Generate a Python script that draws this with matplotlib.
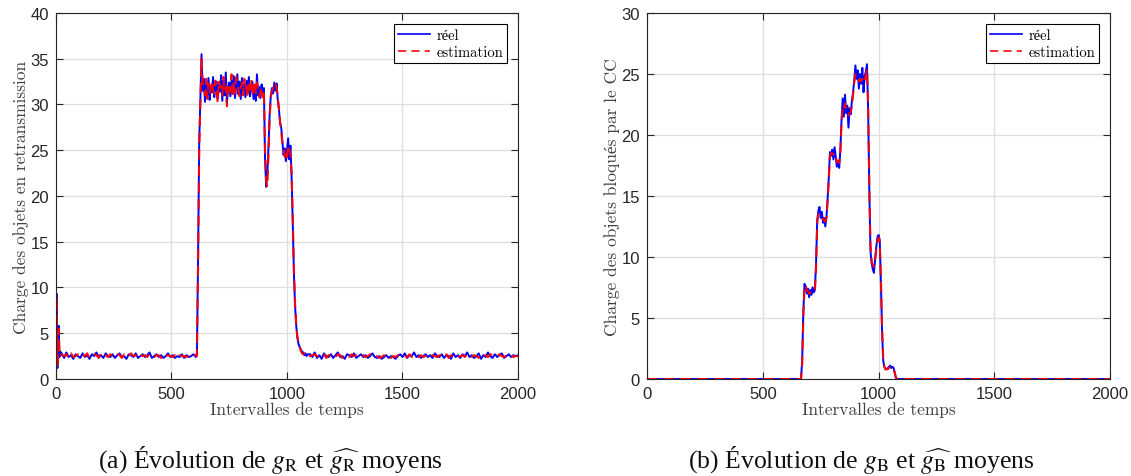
import matplotlib
matplotlib.use("Agg")
import matplotlib.pyplot as plt
import numpy as np

plt.rcParams['axes.unicode_minus'] = False
plt.rcParams['mathtext.fontset'] = 'stix'

# ---- (a) g_R : charge des objets en retransmission ----
gr_t0 = [0, 3, 6, 9, 12, 15, 18]
gr_real0 = [0.2, 9.3, 1.2, 2.2, 5.8, 2.4, 3.0]
gr_est0 = [0.0, 9.0, 1.5, 2.0, 5.5, 2.6, 2.8]

gr_t1 = np.arange(25, 606, 10)
gr_real1 = [2.8, 2.3, 2.9, 2.4, 2.6, 2.2, 2.7, 2.5, 2.3, 2.8,
            2.4, 2.6, 2.2, 2.7, 2.5, 2.9, 2.4, 2.6, 2.3, 2.8,
            2.5, 2.4, 2.7, 2.3, 2.6, 2.8, 2.4, 2.5, 2.2, 2.7,
            2.6, 2.4, 2.8, 2.3, 2.5, 2.7, 2.4, 2.6, 2.9, 2.3,
            2.5, 2.7, 2.4, 2.6, 2.3, 2.5, 2.8, 2.4, 2.6, 2.3,
            2.5, 2.4, 2.7, 2.3, 2.6, 2.4, 2.5, 2.7, 2.4]
gr_est1 = [2.6, 2.5, 2.7, 2.3, 2.8, 2.4, 2.5, 2.7, 2.4, 2.6,
           2.5, 2.8, 2.3, 2.5, 2.7, 2.6, 2.3, 2.8, 2.5, 2.6,
           2.4, 2.7, 2.5, 2.5, 2.8, 2.6, 2.3, 2.7, 2.4, 2.5,
           2.8, 2.5, 2.6, 2.4, 2.7, 2.5, 2.6, 2.4, 2.7, 2.5,
           2.4, 2.6, 2.6, 2.3, 2.7, 2.5, 2.6, 2.5, 2.4, 2.6,
           2.3, 2.6, 2.5, 2.5, 2.4, 2.6, 2.4, 2.5, 2.6]

gr_t2 = np.arange(610, 1091, 5)
gr_real2 = [2.6, 13.0, 26.0, 30.5, 35.5, 31.5, 32.8, 30.3, 32.2, 31.0,
            32.9, 30.5, 32.0, 31.3, 33.0, 30.8, 31.9, 32.5, 30.6, 32.2,
            31.4, 33.2, 30.4, 32.6, 31.0, 33.5, 30.2, 31.8, 32.4, 30.9,
            32.7, 31.2, 33.1, 30.7, 32.0, 33.3, 31.1, 32.5, 30.6, 32.9,
            31.5, 32.2, 30.8, 32.6, 31.3, 33.0, 30.9, 31.8, 32.5, 30.6,
            32.1, 30.4, 33.3, 31.0, 31.9, 30.7, 32.2, 31.3, 31.8, 24.0,
            21.0, 22.5, 25.5, 29.0, 31.0, 31.8, 31.2, 32.4, 31.5, 32.3,
            30.5, 29.5, 28.0, 27.5, 26.0, 24.5, 25.2, 23.8, 25.0, 26.3,
            24.0, 25.5, 22.0, 17.0, 11.5, 8.0, 5.8, 4.5, 3.8, 3.5,
            3.2, 3.0, 2.9, 2.6, 2.8, 2.5, 2.7]
gr_est2 = [2.5, 12.0, 25.0, 30.0, 35.0, 32.3, 31.6, 31.0, 32.8, 30.6,
           32.3, 31.2, 31.6, 32.6, 31.5, 31.2, 32.6, 31.4, 30.2, 32.6,
           31.9, 32.0, 31.0, 33.0, 31.5, 32.0, 29.8, 32.3, 31.8, 31.4,
           33.3, 30.8, 32.5, 31.2, 33.0, 32.3, 31.6, 30.9, 31.8, 32.4,
           31.0, 32.8, 31.5, 31.9, 30.7, 32.5, 31.6, 32.8, 31.0, 31.7,
           32.6, 31.2, 32.4, 31.5, 30.8, 31.4, 31.9, 30.8, 31.6, 25.0,
           21.5, 21.0, 24.5, 28.5, 30.8, 31.5, 31.8, 31.6, 32.2, 31.8,
           30.8, 29.6, 28.2, 27.0, 25.8, 25.2, 24.3, 24.8, 24.2, 25.6,
           25.0, 24.6, 22.5, 17.5, 12.0, 8.2, 5.9, 4.6, 3.9, 3.4,
           3.1, 2.8, 2.7, 2.8, 2.6, 2.7, 2.5]

gr_t3 = np.arange(1100, 2001, 10)
gr_real3 = [2.7, 2.4, 2.9, 2.3, 2.6, 2.2, 2.8, 2.5, 2.4, 2.7,
            2.3, 2.6, 2.9, 2.4, 2.5, 2.2, 2.7, 2.6, 2.4, 2.8,
            2.3, 2.5, 2.7, 2.4, 2.6, 2.3, 2.5, 2.8, 2.4, 2.3,
            2.5, 2.2, 2.4, 2.6, 2.3, 2.5, 2.4, 2.2, 2.5, 2.7,
            2.4, 2.8, 2.3, 2.6, 2.5, 2.9, 2.4, 2.6, 2.3, 2.5,
            2.7, 2.4, 2.6, 2.3, 2.8, 2.5, 2.4, 2.7, 2.3, 2.6,
            2.5, 2.2, 2.8, 2.4, 2.6, 2.3, 2.7, 2.5, 2.9, 2.4,
            2.6, 2.3, 2.5, 2.8, 2.2, 2.6, 2.4, 2.9, 2.5, 2.3,
            2.7, 2.4, 2.6, 2.8, 2.3, 2.5, 2.7, 2.4, 2.6, 2.5,
            2.6]
gr_est3 = [2.5, 2.6, 2.7, 2.5, 2.4, 2.6, 2.7, 2.3, 2.6, 2.5,
           2.6, 2.4, 2.7, 2.6, 2.3, 2.5, 2.6, 2.4, 2.7, 2.5,
           2.6, 2.4, 2.5, 2.6, 2.4, 2.5, 2.7, 2.5, 2.4, 2.5,
           2.3, 2.4, 2.6, 2.4, 2.5, 2.3, 2.5, 2.4, 2.6, 2.5,
           2.6, 2.5, 2.4, 2.7, 2.4, 2.6, 2.5, 2.4, 2.6, 2.4,
           2.5, 2.6, 2.4, 2.6, 2.5, 2.4, 2.6, 2.5, 2.4, 2.7,
           2.3, 2.6, 2.5, 2.6, 2.4, 2.5, 2.6, 2.4, 2.7, 2.5,
           2.4, 2.6, 2.5, 2.3, 2.7, 2.5, 2.6, 2.4, 2.7, 2.6,
           2.4, 2.5, 2.7, 2.5, 2.4, 2.6, 2.5, 2.6, 2.4, 2.5,
           2.5]

# ---- (b) g_B : charge des objets bloqués par le CC ----
gb_t0 = [0, 660]
gb_val0 = [0.0, 0.0]
gb_t1 = np.arange(665, 1086, 5)
gb_real1 = [0.0, 1.5, 5.5, 7.8, 7.6, 7.0, 7.4, 6.7, 7.3, 6.9,
            7.5, 7.1, 7.3, 9.5, 13.0, 13.8, 14.1, 13.2, 13.7, 12.8,
            13.2, 12.5, 13.3, 14.8, 16.5, 18.6, 18.3, 18.8, 18.0, 19.0,
            18.2, 17.4, 17.9, 17.3, 18.8, 21.2, 23.0, 21.5, 23.3, 21.8,
            22.4, 20.6, 22.2, 21.7, 22.8, 23.5, 24.5, 25.7, 24.6, 25.3,
            23.8, 25.0, 24.2, 25.5, 23.5, 24.8, 25.2, 25.8, 22.0, 15.5,
            10.5, 9.5, 9.0, 8.7, 9.8, 10.8, 11.6, 11.8, 11.4, 8.0,
            4.0, 1.5, 1.0, 0.8, 0.8, 0.9, 1.0, 1.1, 0.9, 1.0,
            0.9, 0.5, 0.1, 0.0, 0.0]
gb_est1 = [0.0, 1.2, 5.0, 7.6, 7.7, 7.3, 7.2, 7.0, 7.1, 7.0,
           7.2, 7.2, 7.3, 9.0, 12.8, 13.5, 13.6, 13.4, 13.3, 13.1,
           13.0, 12.9, 13.2, 14.6, 16.3, 18.3, 18.5, 18.5, 18.4, 18.5,
           18.2, 17.8, 17.8, 17.7, 18.5, 21.0, 22.4, 22.2, 22.6, 22.1,
           22.0, 21.6, 21.8, 21.9, 22.4, 23.3, 24.3, 25.0, 24.8, 24.7,
           24.4, 24.6, 24.4, 24.6, 24.3, 24.5, 24.9, 25.4, 22.5, 16.0,
           11.0, 9.7, 9.3, 9.2, 9.7, 10.6, 11.3, 11.6, 11.2, 8.3,
           4.3, 1.7, 1.0, 0.8, 0.8, 0.8, 0.9, 1.0, 0.9, 0.9,
           0.9, 0.5, 0.1, 0.0, 0.0]
gb_t2 = [1090, 2000]

gr_t = np.concatenate([gr_t0, gr_t1, gr_t2, gr_t3])
gr_real = np.concatenate([gr_real0, gr_real1, gr_real2, gr_real3])
gr_est = np.concatenate([gr_est0, gr_est1, gr_est2, gr_est3])
gb_t = np.concatenate([gb_t0, gb_t1, gb_t2])
gb_real = np.concatenate([gb_val0, gb_real1, gb_val0])
gb_est = np.concatenate([gb_val0, gb_est1, gb_val0])

lab_font = ['cmr10', 'Liberation Serif']
tick_font = 'Liberation Sans'

fig = plt.figure(figsize=(11.31, 4.77), dpi=100)
ax1 = fig.add_axes([0.0495, 0.2034, 0.4085, 0.7673])
ax2 = fig.add_axes([0.5721, 0.2034, 0.4094, 0.7673])

panels = [
    (ax1, gr_t, gr_real, gr_est, 40, 'Charge des objets en retransmission'),
    (ax2, gb_t, gb_real, gb_est, 30, 'Charge des objets bloqués par le CC'),
]
for ax, t, real, est, ymax, ylab in panels:
    ax.plot(t, real, color='blue', lw=1.4, label='réel')
    ax.plot(t, est, color='red', lw=1.5, ls=(0, (5, 3)), alpha=0.95, label='estimation')
    ax.set_xlim(0, 2000)
    ax.set_ylim(0, ymax)
    ax.set_xticks([0, 500, 1000, 1500, 2000])
    ax.set_yticks(np.arange(0, ymax + 1, 5))
    ax.grid(True, color='#dedede', lw=0.9)
    ax.set_axisbelow(True)
    ax.tick_params(direction='in', length=5, top=True, right=True, pad=5,
                   labelsize=12, colors='#262626', width=0.8)
    for lb in ax.get_xticklabels() + ax.get_yticklabels():
        lb.set_fontfamily(tick_font)
    for sp in ax.spines.values():
        sp.set_color('#262626')
        sp.set_linewidth(0.8)
    ax.set_xlabel('Intervalles de temps', family=lab_font, fontsize=12.5,
                  color='#404040', labelpad=0)
    ax.set_ylabel(ylab, family=lab_font, fontsize=12.5, color='#404040', labelpad=1)
    leg = ax.legend(loc='upper right', bbox_to_anchor=(0.977, 0.970), borderaxespad=0,
                    fancybox=False, edgecolor='black', framealpha=1,
                    prop={'family': lab_font, 'size': 10.5},
                    handlelength=2.2, labelspacing=0.2,
                    borderpad=0.3, handletextpad=0.4)
    leg.get_frame().set_linewidth(0.8)
    for h in leg.get_lines():
        h.set_linewidth(1.2)

fig.text(0.2395, 0.036, r"(a) Évolution de $g_{\mathrm{R}}$ et $\widehat{g_{\mathrm{R}}}$ moyens",
         ha='center', va='center', fontsize=18.5, family='Liberation Serif', color='#111111')
fig.text(0.7615, 0.036, r"(b) Évolution de $g_{\mathrm{B}}$ et $\widehat{g_{\mathrm{B}}}$ moyens",
         ha='center', va='center', fontsize=18.5, family='Liberation Serif', color='#111111')

fig.savefig('out.png', dpi=100)
